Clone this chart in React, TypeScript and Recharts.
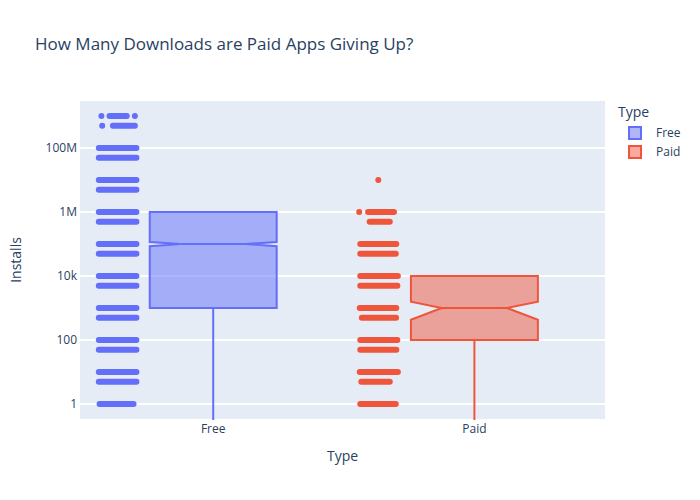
import React from 'react';
import {
  ComposedChart,
  XAxis,
  YAxis,
  CartesianGrid,
  Scatter,
  ReferenceLine,
  Legend,
  Label,
} from 'recharts';

const FONT = '"Open Sans", verdana, arial, sans-serif';
const TEXT = '#2a3f5f';

// categories & colours
const categories = ['Free', 'Paid'];
const colors = ['#636efa', '#EF553B'];
const fills = ['rgba(99,110,250,0.5)', 'rgba(239,85,59,0.5)'];

// box statistics (Installs)
const q1 = [1000, 100];
const median = [100000, 1000];
const q3 = [1000000, 10000];
const notchLow = [85000, 430];
const notchHigh = [115000, 1570];
const lowerFence = [0, 0];

// y axis
const Y_MIN = Math.pow(10, -0.5);
const Y_MAX = Math.pow(10, 9.5);
const yTicks = [1, 100, 10000, 1000000, 100000000];
const yTickLabels = ['1', '100', '10k', '1M', '100M'];

// jittered points: [installs, jitter from, jitter to] (offsets from category centre)
const freeJitter: [number, number, number][] = [
  [1000000000, -0.428, -0.428],
  [1000000000, -0.397, -0.331],
  [1000000000, -0.3, -0.3],
  [500000000, -0.425, -0.425],
  [500000000, -0.384, -0.3],
  [100000000, -0.438, -0.294],
  [50000000, -0.438, -0.294],
  [10000000, -0.438, -0.294],
  [5000000, -0.438, -0.294],
  [1000000, -0.438, -0.294],
  [500000, -0.438, -0.294],
  [100000, -0.438, -0.294],
  [50000, -0.438, -0.294],
  [10000, -0.438, -0.294],
  [5000, -0.438, -0.294],
  [1000, -0.438, -0.294],
  [500, -0.438, -0.294],
  [100, -0.438, -0.294],
  [50, -0.438, -0.294],
  [10, -0.438, -0.294],
  [5, -0.438, -0.294],
  [1, -0.435, -0.305],
];

const paidJitter: [number, number, number][] = [
  [10000000, -0.368, -0.368],
  [1000000, -0.441, -0.441],
  [1000000, -0.407, -0.308],
  [500000, -0.401, -0.324],
  [100000, -0.437, -0.299],
  [50000, -0.437, -0.301],
  [10000, -0.437, -0.293],
  [5000, -0.437, -0.295],
  [1000, -0.439, -0.299],
  [500, -0.431, -0.3],
  [100, -0.437, -0.295],
  [50, -0.437, -0.299],
  [10, -0.439, -0.293],
  [5, -0.433, -0.324],
  [1, -0.437, -0.301],
];

const jitter = [freeJitter, paidJitter];

const BOX_HALF = 0.243;
const NOTCH_HALF = 0.125;

const boxPolygon = (i: number) => {
  const c = i + 0.5;
  const L = c - BOX_HALF;
  const R = c + BOX_HALF;
  return [
    { x: L, y: q3[i] },
    { x: R, y: q3[i] },
    { x: R, y: notchHigh[i] },
    { x: c + NOTCH_HALF, y: median[i] },
    { x: R, y: notchLow[i] },
    { x: R, y: q1[i] },
    { x: L, y: q1[i] },
    { x: L, y: notchLow[i] },
    { x: c - NOTCH_HALF, y: median[i] },
    { x: L, y: notchHigh[i] },
  ];
};

const renderLegend = (props: any) => {
  const payload = props.payload || [];
  return (
    <div style={{ fontFamily: FONT, color: TEXT, textAlign: 'left' }}>
      <div style={{ fontSize: 14, lineHeight: '20px', marginLeft: 6, marginBottom: 1 }}>Type</div>
      {payload.map((entry: any) => {
        const idx = categories.indexOf(entry.value);
        return (
          <div
            key={entry.value}
            style={{ display: 'flex', alignItems: 'center', height: 19, fontSize: 12 }}
          >
            <span
              style={{
                display: 'inline-block',
                width: 10,
                height: 10,
                marginLeft: 16,
                border: `2px solid ${colors[idx]}`,
                background: fills[idx],
              }}
            />
            <span style={{ marginLeft: 14 }}>{entry.value}</span>
          </div>
        );
      })}
    </div>
  );
};

export default function App() {
  return (
    <div style={{ position: 'absolute', left: 0, top: 0, width: 700, height: 500, background: '#fff' }}>
      <div
        style={{
          position: 'absolute',
          left: 35,
          top: 32,
          fontFamily: FONT,
          fontSize: 17,
          lineHeight: '24px',
          color: TEXT,
          whiteSpace: 'nowrap',
        }}
      >
        How Many Downloads are Paid Apps Giving Up?
      </div>
      <ComposedChart
        width={700}
        height={500}
        margin={{ top: 100, right: 95, bottom: 30, left: 0 }}
      >
        <CartesianGrid
          horizontal
          vertical={false}
          stroke="#ffffff"
          strokeWidth={2}
          fill="#E5ECF6"
          fillOpacity={1}
        />
        <XAxis
          type="number"
          dataKey="x"
          domain={[-0.01, 2.0]}
          ticks={categories.map((_, i) => i + 0.5)}
          tickFormatter={(v: number) => categories[Math.round(v - 0.5)]}
          height={50}
          axisLine={false}
          tickLine={false}
          tickSize={0}
          tickMargin={4.5}
          tick={{ fill: TEXT, fontSize: 12, fontFamily: FONT }}
          allowDataOverflow
        >
          <Label
            content={(p: any) => {
              const vb = p.viewBox || { x: 80, y: 420, width: 525, height: 50 };
              return (
                <text
                  x={vb.x + vb.width / 2}
                  y={vb.y + 41}
                  textAnchor="middle"
                  fill={TEXT}
                  fontSize={14}
                  fontFamily={FONT}
                >
                  Type
                </text>
              );
            }}
          />
        </XAxis>
        <YAxis
          type="number"
          dataKey="y"
          scale="log"
          domain={[Y_MIN, Y_MAX]}
          allowDataOverflow
          ticks={yTicks}
          tickFormatter={(v: number) => yTickLabels[yTicks.indexOf(v)] ?? String(v)}
          width={80}
          axisLine={false}
          tickLine={false}
          tickSize={0}
          tickMargin={3}
          tick={{ fill: TEXT, fontSize: 12, fontFamily: FONT }}
        >
          <Label
            content={(p: any) => {
              const vb = p.viewBox || { x: 0, y: 100, width: 80, height: 320 };
              const cx = vb.x + 21;
              const cy = vb.y + vb.height / 2;
              return (
                <text
                  x={cx}
                  y={cy}
                  transform={`rotate(-90, ${cx}, ${cy})`}
                  textAnchor="middle"
                  fill={TEXT}
                  fontSize={14}
                  fontFamily={FONT}
                >
                  Installs
                </text>
              );
            }}
          />
        </YAxis>

        {categories.map((cat, i) => (
          <Scatter
            key={cat}
            name={cat}
            data={boxPolygon(i)}
            fill={colors[i]}
            isAnimationActive={false}
            lineType="joint"
            line={(lp: any) => (
              <polygon
                points={(lp.points || []).map((pt: any) => `${pt.x},${pt.y}`).join(' ')}
                fill={fills[i]}
                stroke={colors[i]}
                strokeWidth={2}
                strokeLinejoin="miter"
              />
            )}
            shape={() => <g />}
          />
        ))}

        {categories.map((cat, i) => (
          <ReferenceLine
            key={`med-${cat}`}
            segment={[
              { x: i + 0.5 - NOTCH_HALF, y: median[i] },
              { x: i + 0.5 + NOTCH_HALF, y: median[i] },
            ]}
            stroke={colors[i]}
            strokeWidth={2}
            ifOverflow="visible"
          />
        ))}

        {categories.map((cat, i) => (
          <ReferenceLine
            key={`wh-${cat}`}
            segment={[
              { x: i + 0.5, y: q1[i] },
              { x: i + 0.5, y: Math.max(lowerFence[i], Y_MIN) },
            ]}
            stroke={colors[i]}
            strokeWidth={2}
            ifOverflow="hidden"
          />
        ))}

        {jitter.map((rows, i) =>
          rows.map(([v, a, b], k) => (
            <ReferenceLine
              key={`pt-${i}-${k}`}
              segment={[
                { x: i + 0.5 + a, y: v },
                { x: i + 0.5 + b, y: v },
              ]}
              stroke={colors[i]}
              strokeWidth={6}
              strokeLinecap="round"
              ifOverflow="visible"
            />
          ))
        )}

        <Legend
          layout="vertical"
          align="center"
          verticalAlign="middle"
          content={renderLegend}
          wrapperStyle={{ left: 612, top: 102, width: 88 }}
        />
      </ComposedChart>
    </div>
  );
}
